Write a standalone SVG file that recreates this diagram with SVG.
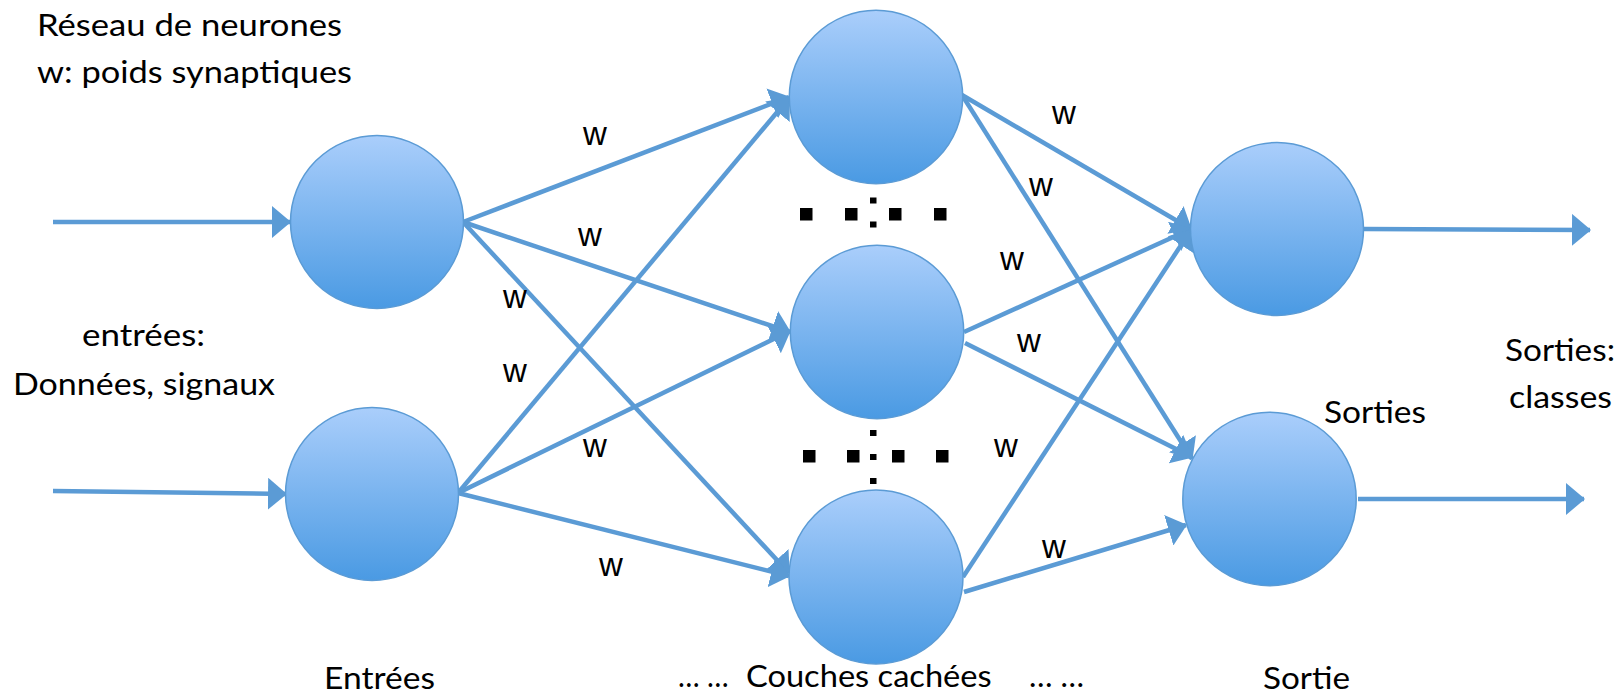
<svg xmlns="http://www.w3.org/2000/svg" width="1619" height="695" viewBox="0 0 1619 695">
  <style>
    .neuron { fill: url(#neuronFill); stroke: #5b9bd5; stroke-width: 1.5; }
    .link { stroke: #5b9bd5; stroke-width: 4.5; fill: none; marker-end: url(#head); }
    .lbl { font-family: Lato, "Liberation Sans", sans-serif; font-size: 30px; fill: #000; }
    .w { font-family: "Liberation Sans", Arial, sans-serif; font-size: 33px; fill: #000; text-anchor: middle; }
    .dot { fill: #000; }
  </style>
  <defs>
    <linearGradient id="neuronFill" x1="0" y1="0" x2="0" y2="1">
      <stop offset="0" stop-color="#aacefb"/>
      <stop offset="1" stop-color="#4a9ae3"/>
    </linearGradient>
    <marker id="head" markerUnits="userSpaceOnUse" markerWidth="20" markerHeight="32" refX="18" refY="16" orient="auto">
      <path d="M0,0 L19,16 L0,32 z" fill="#5b9bd5"/>
    </marker>
  </defs>

  <rect width="1619" height="695" fill="#fff"/>

  <!-- connectors -->
  <g id="connectors">
    <!-- inputs -->
    <line class="link" x1="53" y1="222" x2="290" y2="222"/>
    <line class="link" x1="53" y1="491" x2="286" y2="494"/>
    <!-- input layer to hidden layer -->
    <line class="link" x1="463" y1="222" x2="789" y2="97"/>
    <line class="link" x1="463" y1="222" x2="790" y2="332"/>
    <line class="link" x1="463" y1="222" x2="789" y2="573"/>
    <line class="link" x1="458" y1="493" x2="789" y2="98"/>
    <line class="link" x1="458" y1="493" x2="790" y2="331"/>
    <line class="link" x1="458" y1="493" x2="789" y2="576"/>
    <!-- hidden layer to output layer -->
    <line class="link" x1="962" y1="95" x2="1191" y2="229"/>
    <line class="link" x1="962" y1="95" x2="1192" y2="459"/>
    <line class="link" x1="964" y1="332" x2="1191" y2="229"/>
    <line class="link" x1="965" y1="343" x2="1192" y2="457"/>
    <line class="link" x1="963" y1="577" x2="1191" y2="230"/>
    <line class="link" x1="964" y1="592" x2="1186" y2="525"/>
    <!-- outputs -->
    <line class="link" x1="1364" y1="229" x2="1590" y2="230"/>
    <line class="link" x1="1358" y1="499" x2="1584" y2="499"/>
  </g>

  <!-- synaptic weights -->
  <g id="weights">
    <text class="w" x="595" y="145">w</text>
    <text class="w" x="590" y="246">w</text>
    <text class="w" x="515" y="308">w</text>
    <text class="w" x="515" y="382">w</text>
    <text class="w" x="595" y="457">w</text>
    <text class="w" x="611" y="576">w</text>
    <text class="w" x="1064" y="124">w</text>
    <text class="w" x="1041" y="196">w</text>
    <text class="w" x="1012" y="270">w</text>
    <text class="w" x="1029" y="352">w</text>
    <text class="w" x="1006" y="457">w</text>
    <text class="w" x="1054" y="558">w</text>
  </g>

  <!-- input layer -->
  <g id="in1"><circle class="neuron" cx="377" cy="222" r="86.5"/></g>
  <g id="in2"><circle class="neuron" cx="372" cy="494" r="86.5"/></g>

  <!-- hidden layers -->
  <g id="h1"><circle class="neuron" cx="876" cy="97" r="86.7"/></g>
  <g id="h2"><circle class="neuron" cx="877" cy="332" r="86.7"/></g>
  <g id="h3"><circle class="neuron" cx="876" cy="577" r="87"/></g>

  <!-- output layer -->
  <g id="out1"><circle class="neuron" cx="1277" cy="229" r="86.5"/></g>
  <g id="out2"><circle class="neuron" cx="1269.5" cy="499" r="86.7"/></g>

  <!-- ellipsis markers between hidden neurons -->
  <g id="ellipsis-upper">
    <rect class="dot" x="800" y="208" width="12.5" height="12.5"/>
    <rect class="dot" x="845" y="208" width="12.5" height="12.5"/>
    <rect class="dot" x="889" y="208" width="12.5" height="12.5"/>
    <rect class="dot" x="934" y="208" width="12.5" height="12.5"/>
    <rect class="dot" x="870" y="197.5" width="6.5" height="6"/>
    <rect class="dot" x="870" y="221.5" width="6.5" height="6"/>
  </g>
  <g id="ellipsis-lower">
    <rect class="dot" x="803" y="450" width="12.5" height="12.5"/>
    <rect class="dot" x="847" y="450" width="12.5" height="12.5"/>
    <rect class="dot" x="892" y="450" width="12.5" height="12.5"/>
    <rect class="dot" x="936" y="450" width="12.5" height="12.5"/>
    <rect class="dot" x="870" y="430" width="6.5" height="6"/>
    <rect class="dot" x="870" y="454" width="6.5" height="6"/>
    <rect class="dot" x="870" y="478" width="6.5" height="6"/>
  </g>

  <!-- captions -->
  <g id="captions">
    <text class="lbl" x="37" y="36" textLength="305" lengthAdjust="spacingAndGlyphs">Réseau de neurones</text>
    <text class="lbl" x="37" y="83" textLength="315" lengthAdjust="spacingAndGlyphs">w: poids synaptiques</text>
    <text class="lbl" x="82" y="346" textLength="123" lengthAdjust="spacingAndGlyphs">entrées:</text>
    <text class="lbl" x="13" y="395" textLength="262" lengthAdjust="spacingAndGlyphs">Données, signaux</text>
    <text class="lbl" x="324" y="689" textLength="111" lengthAdjust="spacingAndGlyphs">Entrées</text>
    <text class="lbl" y="687"><tspan x="678" textLength="58" lengthAdjust="spacingAndGlyphs">… … </tspan><tspan x="746" textLength="254" lengthAdjust="spacingAndGlyphs">Couches cachées </tspan><tspan x="1029" textLength="55" lengthAdjust="spacingAndGlyphs">… …</tspan></text>
    <text class="lbl" x="1263" y="689" textLength="87" lengthAdjust="spacingAndGlyphs">Sortie</text>
    <text class="lbl" x="1324" y="423" textLength="102" lengthAdjust="spacingAndGlyphs">Sorties</text>
    <text class="lbl" x="1505" y="361" textLength="110" lengthAdjust="spacingAndGlyphs">Sorties:</text>
    <text class="lbl" x="1509" y="408" textLength="103" lengthAdjust="spacingAndGlyphs">classes</text>
  </g>
</svg>
